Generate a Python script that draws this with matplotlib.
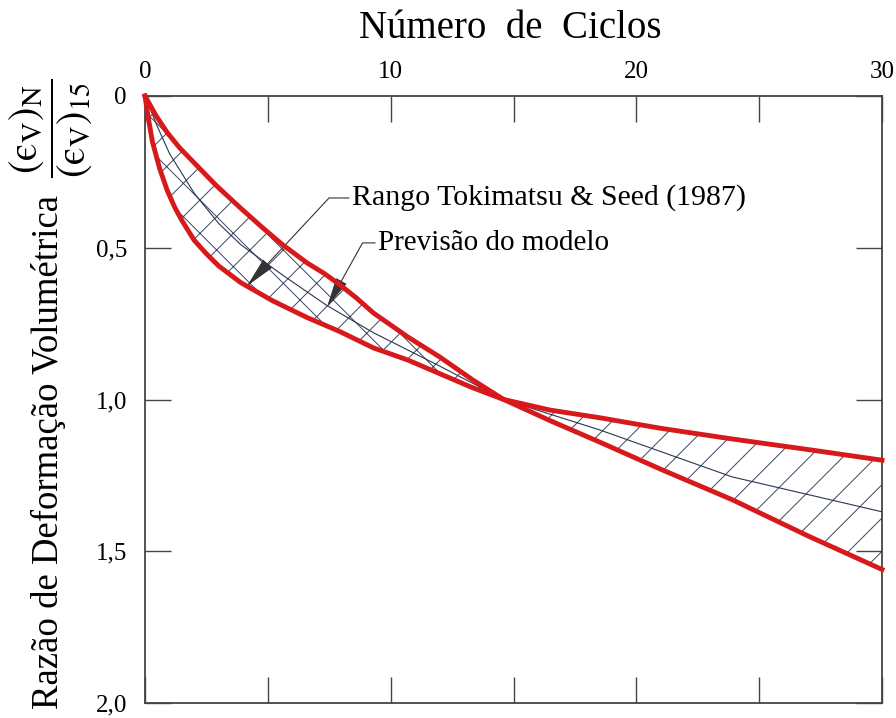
import numpy as np
import matplotlib
matplotlib.use("Agg")
import matplotlib.pyplot as plt

# Curva que cresce rápido no início (termina em 1,20 aos 30 ciclos)
ciclos_a = [0, 0.15, 0.3, 0.6, 0.9, 1.2, 1.5, 2.0, 2.5, 3.0, 3.9, 5.2, 6.6, 7.9,
            9.3, 10.7, 12.0, 13.3, 14.6, 16.5, 18.5, 21.0, 23.9, 27.0, 30]
razao_a = [0, 0.08, 0.15, 0.24, 0.31, 0.365, 0.41, 0.475, 0.52, 0.56, 0.615, 0.675, 0.73, 0.775,
           0.83, 0.87, 0.915, 0.96, 1.0, 1.035, 1.06, 1.095, 1.13, 1.165, 1.20]

# Curva que cresce devagar no início (termina em 1,56 aos 30 ciclos)
ciclos_b = [0, 0.45, 0.9, 1.4, 2.0, 2.9, 3.9, 4.8, 5.6, 6.6, 7.3, 7.9, 8.6, 9.3,
            10.7, 12.0, 13.35, 14.6, 16.5, 18.5, 21.0, 23.9, 27.0, 30]
razao_b = [0, 0.065, 0.12, 0.17, 0.22, 0.295, 0.37, 0.435, 0.49, 0.55, 0.585, 0.62, 0.665, 0.715,
           0.794, 0.86, 0.936, 1.0, 1.07, 1.14, 1.23, 1.33, 1.45, 1.56]

# Previsão do modelo (linha fina no meio da faixa)
ciclos_m = [0, 0.5, 1, 2, 3, 3.9, 5.6, 7.4, 9.3, 12.0, 14.6, 18.5, 23.9, 30]
razao_m = [0, 0.1, 0.19, 0.32, 0.42, 0.49, 0.59, 0.69, 0.78, 0.89, 1.0, 1.10, 1.255, 1.37]

n_cruz = 14.6  # onde as duas curvas se cruzam

xticks_maj = [0, 10, 20, 30]
xticks_min = [5, 15, 25]
yticks = [0, 0.5, 1.0, 1.5, 2.0]
ytick_labels = ["0", "0,5", "1,0", "1,5", "2,0"]

plt.rcParams["font.family"] = ["Liberation Serif", "DejaVu Serif"]
plt.rcParams["mathtext.fontset"] = "stix"
plt.rcParams["hatch.linewidth"] = 0.7

vermelho = "#d7191c"
cinza = "#444444"
hachura = "#3a4560"

fig = plt.figure(figsize=(8.96, 7.18), dpi=100)
ax = fig.add_axes([145 / 896, 1 - 703 / 718, (882 - 145) / 896, (703 - 96) / 718])

ca, ra = np.array(ciclos_a), np.array(razao_a)
cb, rb = np.array(ciclos_b), np.array(razao_b)

# faixa hachurada, dividida no ponto de cruzamento
esq_a, esq_b = ca <= n_cruz, cb <= n_cruz
ax.fill(np.r_[ca[esq_a], cb[esq_b][::-1]], np.r_[ra[esq_a], rb[esq_b][::-1]],
        facecolor="none", edgecolor=hachura, lw=0, hatch="x")
dir_a, dir_b = ca >= n_cruz, cb >= n_cruz
ax.fill(np.r_[ca[dir_a], cb[dir_b][::-1]], np.r_[ra[dir_a], rb[dir_b][::-1]],
        facecolor="none", edgecolor=hachura, lw=0, hatch="/")

ax.plot(ciclos_m, razao_m, color="#2a3550", lw=0.8)
ax.plot(ciclos_a, razao_a, color=vermelho, lw=3.5, clip_on=False, zorder=5,
        solid_joinstyle="round")
ax.plot(ciclos_b, razao_b, color=vermelho, lw=3.5, clip_on=False, zorder=5,
        solid_joinstyle="round")

ax.set_xlim(0, 30)
ax.set_ylim(2.0, 0)

ax.xaxis.tick_top()
ax.set_xticks(xticks_maj)
ax.set_xticks(xticks_min, minor=True)
ax.set_yticks(yticks)
ax.set_yticklabels(ytick_labels)
ax.tick_params(axis="both", which="both", direction="in", length=19, width=1,
               color=cinza, top=True, bottom=True, left=True, right=True,
               labelsize=18)
ax.tick_params(axis="x", which="major", pad=9)
ax.tick_params(axis="y", which="major", pad=13)
for s in ax.spines.values():
    s.set_color(cinza)
    s.set_linewidth(1.3)

fig.text(510 / 896, 1 - 29 / 718, "Número  de  Ciclos", ha="center", va="center",
         fontsize=28)
fig.text(48 / 896, 1 - 452 / 718, "Razão de Deformação Volumétrica", rotation=90,
         ha="center", va="center", fontsize=26.5)
fig.text(51 / 896, 1 - 128 / 718,
         "$\\dfrac{(\\mathrm{\u03f5}_{\\mathrm{V}})_{\\mathrm{N}}}"
         "{(\\mathrm{\u03f5}_{\\mathrm{V}})_{15}}$",
         rotation=90, ha="center", va="center", fontsize=29)

seta = dict(arrowstyle="-|>,head_length=0.9,head_width=0.18", color="#333333",
            lw=0.8, shrinkA=0, shrinkB=0, relpos=(0, 0.5))
ax.annotate("Rango Tokimatsu & Seed (1987)", xy=(4.15, 0.626), xytext=(8.42, 0.336),
            ha="left", va="center", fontsize=21.5,
            arrowprops=dict(seta, connectionstyle="angle,angleA=0,angleB=47,rad=0"))
ax.annotate("Previsão do modelo", xy=(7.41, 0.695), xytext=(9.48, 0.484),
            ha="left", va="center", fontsize=21,
            arrowprops=dict(seta, connectionstyle="angle,angleA=0,angleB=61,rad=0"))

fig.savefig("out.png", dpi=100)
